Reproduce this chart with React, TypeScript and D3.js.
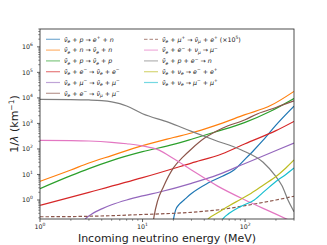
import React from 'react';
import * as d3 from 'd3';

// energies (MeV) and inverse mean free paths (1/km)
const ibdE = [19.5, 21, 23, 25.4, 30, 43, 60, 78, 100, 123, 150, 200, 300];
const ibdV = [0.1, 0.4, 0.7, 1.0, 1.8, 4.5, 8.5, 15, 40, 93, 220, 850, 4700];

const nScatE = [1, 2, 3, 5, 10, 20, 30, 50, 100, 177, 300];
const nScatV = [5.4, 15, 28, 55, 135, 280, 420, 800, 2200, 5000, 18000];

const pScatE = [1, 2, 3, 5, 10, 20, 30, 50, 100, 177, 300];
const pScatV = [2.8, 9, 17, 35, 78, 150, 240, 450, 1100, 3000, 9500];

const eScatE = [1, 3, 10, 30, 60, 100, 200, 300];
const eScatV = [0.62, 2.0, 7.5, 28, 65, 160, 520, 1200];

const muScatE = [2.5, 2.8, 3.2, 4, 5, 7, 10, 15, 30, 54, 100, 209, 300];
const muScatV = [0.1, 0.19, 0.28, 0.45, 0.65, 1.0, 1.45, 2.1, 4.5, 9.6, 27, 93, 170];

const eMuE = [12.3, 13, 14, 16, 20, 25, 30, 40, 60, 100, 133, 200, 300];
const eMuV = [0.05, 0.25, 0.9, 3.3, 18, 50, 100, 260, 650, 1400, 2400, 4200, 7600];

const muPlusE = [1, 3, 10, 30, 60, 100, 200, 300];
const muPlusV = [0.22, 0.23, 0.27, 0.33, 0.43, 0.6, 1.0, 1.4];

const invMuE = [1, 2, 3, 5, 7, 10, 14.5, 20, 30, 54, 100, 150, 200, 270];
const invMuV = [215, 212, 205, 182, 160, 132, 90, 42, 15, 3.5, 1.0, 0.47, 0.28, 0.16];

const captE = [1, 2, 3, 4, 5, 6, 7, 10, 18, 30, 50, 91, 150, 194, 230, 262, 300];
const captV = [8700, 8600, 8300, 7800, 7000, 6000, 4800, 2400, 1100, 490, 225, 93, 30, 9.6, 3.5, 1.0, 0.35];

const eePairE = [38, 45, 55, 70, 90, 114, 150, 209, 250, 300];
const eePairV = [0.1, 0.2, 0.33, 0.6, 1.05, 1.8, 3.8, 9.6, 18, 37];

const mmPairE = [55, 62, 70, 90, 123, 160, 209, 250, 300];
const mmPairV = [0.1, 0.2, 0.3, 0.55, 1.0, 2.5, 6.1, 10, 18];

// legend labels: _x subscript, ^x superscript, ν̄ written as "nb"
const series = [
  { label: 'nb_e + p → e^+ + n', e: ibdE, v: ibdV, color: '#1f77b4' },
  { label: 'nb_e + n → nb_e + n', e: nScatE, v: nScatV, color: '#ff7f0e' },
  { label: 'nb_e + p → nb_e + p', e: pScatE, v: pScatV, color: '#2ca02c' },
  { label: 'nb_e + e^− → nb_e + e^−', e: eScatE, v: eScatV, color: '#d62728' },
  { label: 'nb_e + μ^− → nb_e + μ^−', e: muScatE, v: muScatV, color: '#9467bd' },
  { label: 'nb_e + e^− → nb_μ + μ^−', e: eMuE, v: eMuV, color: '#8c564b' },
  { label: 'nb_e + μ^+ → nb_μ + e^+ (×10^5)', e: muPlusE, v: muPlusV, color: '#8c564b', dash: '3.5,2' },
  { label: 'nb_e + e^− + ν_μ → μ^−', e: invMuE, v: invMuV, color: '#e377c2' },
  { label: 'nb_e + p + e^− → n', e: captE, v: captV, color: '#7f7f7f' },
  { label: 'nb_e + ν_e → e^− + e^+', e: eePairE, v: eePairV, color: '#bcbd22' },
  { label: 'nb_e + ν_e → μ^− + μ^+', e: mmPairE, v: mmPairV, color: '#17becf' },
];

const xTicks = [1, 10, 100];
const yTicks = [1, 10, 100, 1e3, 1e4, 1e5, 1e6];

const W = 327;
const H = 245;
const left = 40, right = 294, top = 29, bottom = 219;

const isVar = (c: string) => /[a-zμν]/.test(c);

// splits a label into runs of plain / sub / sup text
function MathLabel({ text, x, y, size }: { text: string; x: number; y: number; size: number }) {
  const runs: { s: string; kind: 'n' | 'sub' | 'sup' }[] = [];
  let i = 0;
  while (i < text.length) {
    if (text.startsWith('nb', i)) {
      runs.push({ s: 'ν\u0304', kind: 'n' });
      i += 2;
    } else if (text[i] === '_' || text[i] === '^') {
      const kind = text[i] === '_' ? 'sub' : 'sup';
      let s = text[i + 1];
      let j = i + 2;
      while (j < text.length && /[0-9]/.test(s) && /[0-9]/.test(text[j])) { s += text[j]; j++; }
      runs.push({ s, kind });
      i = j;
    } else {
      let j = i;
      let s = '';
      while (j < text.length && text[j] !== '_' && text[j] !== '^' && !text.startsWith('nb', j)) { s += text[j]; j++; }
      runs.push({ s, kind: 'n' });
      i = j;
    }
  }
  let shift = 0;
  const nodes: React.ReactNode[] = [];
  let k = 0;
  runs.forEach(r => {
    const target = r.kind === 'sub' ? size * 0.25 : r.kind === 'sup' ? -size * 0.4 : 0;
    const dy = target - shift;
    shift = target;
    const fs = r.kind === 'n' ? size : size * 0.7;
    // split normal run into variable / operator chars for italics
    const chunks = r.s.match(/[a-zμν\u0304]+|[^a-zμν\u0304]+/g) || [r.s];
    chunks.forEach((c, ci) => {
      nodes.push(
        <tspan key={k++} fontSize={fs} dy={ci === 0 && dy !== 0 ? dy : undefined}
          fontStyle={isVar(c[0]) ? 'italic' : 'normal'}>{c}</tspan>
      );
    });
  });
  return (
    <text x={x} y={y} fontSize={size} fontFamily="DejaVu Sans" fill="#222">{nodes}</text>
  );
}

export default function App() {
  const x = d3.scaleLog().domain([1, 300]).range([left, right]);
  const y = d3.scaleLog().domain([0.18, 5e6]).range([bottom, top]);

  const line = d3.line<[number, number]>()
    .x(d => x(d[0]))
    .y(d => y(d[1]))
    .curve(d3.curveMonotoneX);

  const xMinor: number[] = [];
  [1, 10, 100].forEach(d => { for (let m = 2; m <= 9; m++) if (d * m <= 300) xMinor.push(d * m); });
  const yMinor: number[] = [];
  [0.1, 1, 10, 100, 1e3, 1e4, 1e5, 1e6].forEach(d => {
    for (let m = 2; m <= 9; m++) { const v = d * m; if (v >= 0.18 && v <= 5e6) yMinor.push(v); }
  });

  const rowY = (i: number) => 39.3 + i * 10.8;

  return (
    <svg width={W} height={H} style={{ position: 'absolute', left: 0, top: 0 }}>
      <rect width={W} height={H} fill="#fff" />
      <defs>
        <clipPath id="plot">
          <rect x={left} y={top} width={right - left} height={bottom - top} />
        </clipPath>
      </defs>

      <g clipPath="url(#plot)">
        {series.map((s, i) => (
          <path key={i}
            d={line(s.e.map((e, j) => [e, s.v[j]] as [number, number])) || ''}
            fill="none" stroke={s.color} strokeWidth={1.2}
            strokeDasharray={s.dash} />
        ))}
      </g>

      {/* legend */}
      {series.map((s, i) => {
        const col = i < 6 ? 0 : 1;
        const x0 = col === 0 ? 46 : 144;
        const yy = rowY(col === 0 ? i : i - 6);
        return (
          <g key={i}>
            <line x1={x0} x2={x0 + 14} y1={yy} y2={yy} stroke={s.color}
              strokeWidth={1.2} strokeOpacity={0.6} strokeDasharray={s.dash} />
            <MathLabel text={s.label} x={x0 + 18} y={yy + 2.2} size={6.3} />
          </g>
        );
      })}

      {/* frame */}
      <rect x={left} y={top} width={right - left} height={bottom - top}
        fill="none" stroke="#222" strokeWidth={0.8} />

      {/* x ticks */}
      {xTicks.map(t => (
        <g key={t}>
          <line x1={x(t)} x2={x(t)} y1={bottom} y2={bottom + 3} stroke="#222" strokeWidth={0.7} />
          <text x={x(t)} y={bottom + 10} textAnchor="middle" fontSize={6.3}
            fontFamily="DejaVu Sans" fill="#222">
            10<tspan fontSize={4.5} dy={-2.8}>{Math.round(Math.log10(t))}</tspan>
          </text>
        </g>
      ))}
      {xMinor.map(t => (
        <line key={t} x1={x(t)} x2={x(t)} y1={bottom} y2={bottom + 1.8} stroke="#222" strokeWidth={0.5} />
      ))}

      {/* y ticks */}
      {yTicks.map(t => (
        <g key={t}>
          <line x1={left - 3} x2={left} y1={y(t)} y2={y(t)} stroke="#222" strokeWidth={0.7} />
          <text x={left - 12.5} y={y(t) + 2.2} textAnchor="middle" fontSize={6.3}
            fontFamily="DejaVu Sans" fill="#222">
            10<tspan fontSize={4.5} dy={-2.8}>{Math.round(Math.log10(t))}</tspan>
          </text>
        </g>
      ))}
      {yMinor.map(t => (
        <line key={t} x1={left - 1.8} x2={left} y1={y(t)} y2={y(t)} stroke="#222" strokeWidth={0.5} />
      ))}

      <text transform={`translate(18,${(top + bottom) / 2}) rotate(-90)`} textAnchor="middle"
        fontSize={11} fontFamily="DejaVu Sans" fill="#222">
        1/<tspan fontStyle="italic">λ</tspan> (km<tspan fontSize={7.5} dy={-4.5}>−1</tspan><tspan dy={4.5}>)</tspan>
      </text>

      <text x={(left + right) / 2} y={242} textAnchor="middle" fontSize={11}
        fontFamily="DejaVu Sans" fill="#222">
        Incoming neutrino energy (MeV)
      </text>
    </svg>
  );
}
